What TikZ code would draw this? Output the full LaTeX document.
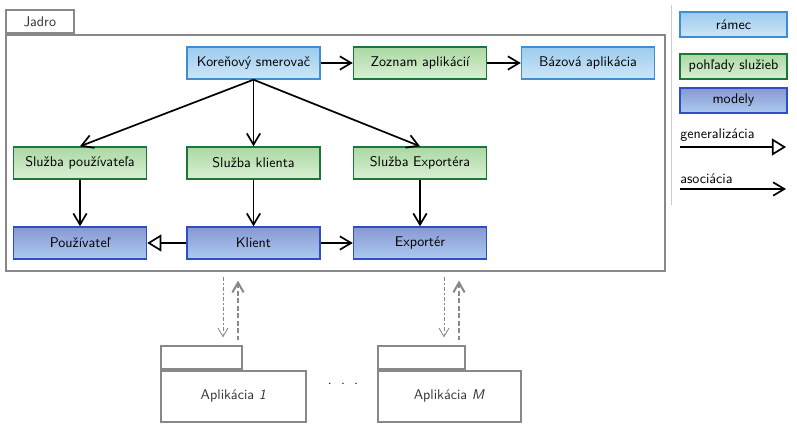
\documentclass[tikz,border=0pt]{standalone}
\usepackage{fontspec}
\usepackage{tikz}
\usetikzlibrary{shapes,arrows,arrows.meta,calc}
\definecolor{ramectop}{RGB}{156, 203, 238}
\definecolor{ramecbot}{RGB}{206, 230, 247}
\definecolor{ramecline}{RGB}{62, 142, 214}
\definecolor{sluzbytop}{RGB}{170, 216, 162}
\definecolor{sluzbybot}{RGB}{218, 240, 212}
\definecolor{sluzbyline}{RGB}{26, 118, 58}
\definecolor{modelytop}{RGB}{135, 152, 210}
\definecolor{modelybot}{RGB}{172, 202, 240}
\definecolor{modelyline}{RGB}{46, 78, 200}
\definecolor{pkggray}{RGB}{136, 136, 136}

\begin{document}
\begin{tikzpicture}[x=0.025cm,y=-0.025cm,font=\sffamily]

\tikzstyle{ramec} = [draw, line width=1, draw=ramecline, top color=ramectop, bottom color=ramecbot,
minimum width=3.325cm, minimum height=0.8cm, inner sep=2]
\tikzstyle{sluzby} = [draw, line width=1, draw=sluzbyline, top color=sluzbytop, bottom color=sluzbybot,
minimum width=3.325cm, minimum height=0.8cm, inner sep=2]
\tikzstyle{modely} = [draw, line width=1, draw=modelyline, top color=modelytop, bottom color=modelybot,
minimum width=3.325cm, minimum height=0.8cm, inner sep=2]
\tikzstyle{pkg} = [draw=pkggray, line width=1.1, fill=white, inner sep=0, text=black!80]
\tikzstyle{asoc} = [line width=1.2, -{Straight Barb[length=8pt,width=9.5pt]}]
\tikzstyle{gener} = [line width=1.2, -{Triangle[open,length=10pt,width=12pt]}]
\tikzstyle{req} = [pkggray, line width=0.6, dash pattern=on 3pt off 1.5pt on 1.2pt off 1.5pt,
-{Straight Barb[length=6pt,width=7pt]}]
\tikzstyle{resp} = [pkggray, line width=1.4, dash pattern=on 3.5pt off 1.8pt, -{Straight Barb[length=7pt,width=8pt]}]

\useasboundingbox (0,0) rectangle (797,431);

% jadro
\node [pkg, minimum width=1.7cm, minimum height=0.575cm, anchor=south west] (jadrotab) at (5,34) {Jadro};
\node [pkg, minimum width=16.475cm, minimum height=5.9cm, anchor=north west] (jadro) at (5,34) {};

\node [ramec] (smerovac) at (253.5,63) {Koreňový smerovač};
\node [sluzby] (zoznam) at (420,63) {Zoznam aplikácií};
\node [ramec] (bazova) at (588,63) {Bázová aplikácia};

\node [sluzby] (spouz) at (80,163) {Služba používateľa};
\node [sluzby] (sklient) at (253.5,163) {Služba klienta};
\node [sluzby] (sexport) at (420,163) {Služba Exportéra};

\node [modely] (pouz) at (80,243) {Používateľ};
\node [modely] (klient) at (253.5,243) {Klient};
\node [modely] (export) at (420,243) {Exportér};

\draw[asoc] (smerovac) -- (zoznam);
\draw[asoc] (zoznam) -- (bazova);
\draw[asoc] (smerovac.south) -- (spouz.north);
\draw[asoc] (smerovac.south) -- (sklient.north);
\draw[asoc] (smerovac.south) -- (sexport.north);
\draw[asoc] (spouz) -- (pouz);
\draw[asoc] (sklient) -- (klient);
\draw[asoc] (sexport) -- (export);
\draw[gener] (klient) -- (pouz);
\draw[asoc] (klient) -- (export);

% legenda
\draw[black!20] (671,5) -- (671,205);
\node [ramec, minimum width=2.675cm, minimum height=0.625cm] (lgramec) at (733.5,24.5) {rámec};
\node [sluzby, minimum width=2.675cm, minimum height=0.625cm] (lgsluzby) at (733.5,66.5) {pohľady služieb};
\node [modely, minimum width=2.675cm, minimum height=0.625cm] (lgmodely) at (733.5,100.5) {modely};

\node [anchor=base west, inner sep=0] (lggener) at (680,139) {generalizácia};
\coordinate (genA) at (680,147);
\coordinate (genB) at (786,147);
\draw[gener] (genA) -- (genB);

\node [anchor=base west, inner sep=0] (lgasoc) at (680,184) {asociácia};
\coordinate (asocA) at (680,189);
\coordinate (asocB) at (786,189);
\draw[asoc] (asocA) -- (asocB);

% aplikacie
\node [pkg, minimum width=2.025cm, minimum height=0.575cm, anchor=south west] (app1tab) at (160,370) {};
\node [pkg, minimum width=3.625cm, minimum height=1.275cm, anchor=north west] (app1) at (160,370) {Aplikácia \textit{1}};
\node [pkg, minimum width=2.175cm, minimum height=0.575cm, anchor=south west] (appMtab) at (377,370) {};
\node [pkg, minimum width=3.575cm, minimum height=1.275cm, anchor=north west] (appM) at (377,370) {Aplikácia \textit{M}};

\node [inner sep=0] (bodky) at (343,384) {.\hspace{6.5pt}.\hspace{6.5pt}.};

\draw[req, shorten <=0.125cm, shorten >=0.2cm] (223,0 |- jadro.south) -- (223,0 |- app1tab.north);
\draw[resp, shorten <=0.125cm, shorten >=0.225cm] (238,0 |- app1tab.north) -- (238,0 |- jadro.south);
\draw[req, shorten <=0.125cm, shorten >=0.2cm] (444,0 |- jadro.south) -- (444,0 |- appMtab.north);
\draw[resp, shorten <=0.125cm, shorten >=0.225cm] (459,0 |- appMtab.north) -- (459,0 |- jadro.south);

\end{tikzpicture}
\end{document}
